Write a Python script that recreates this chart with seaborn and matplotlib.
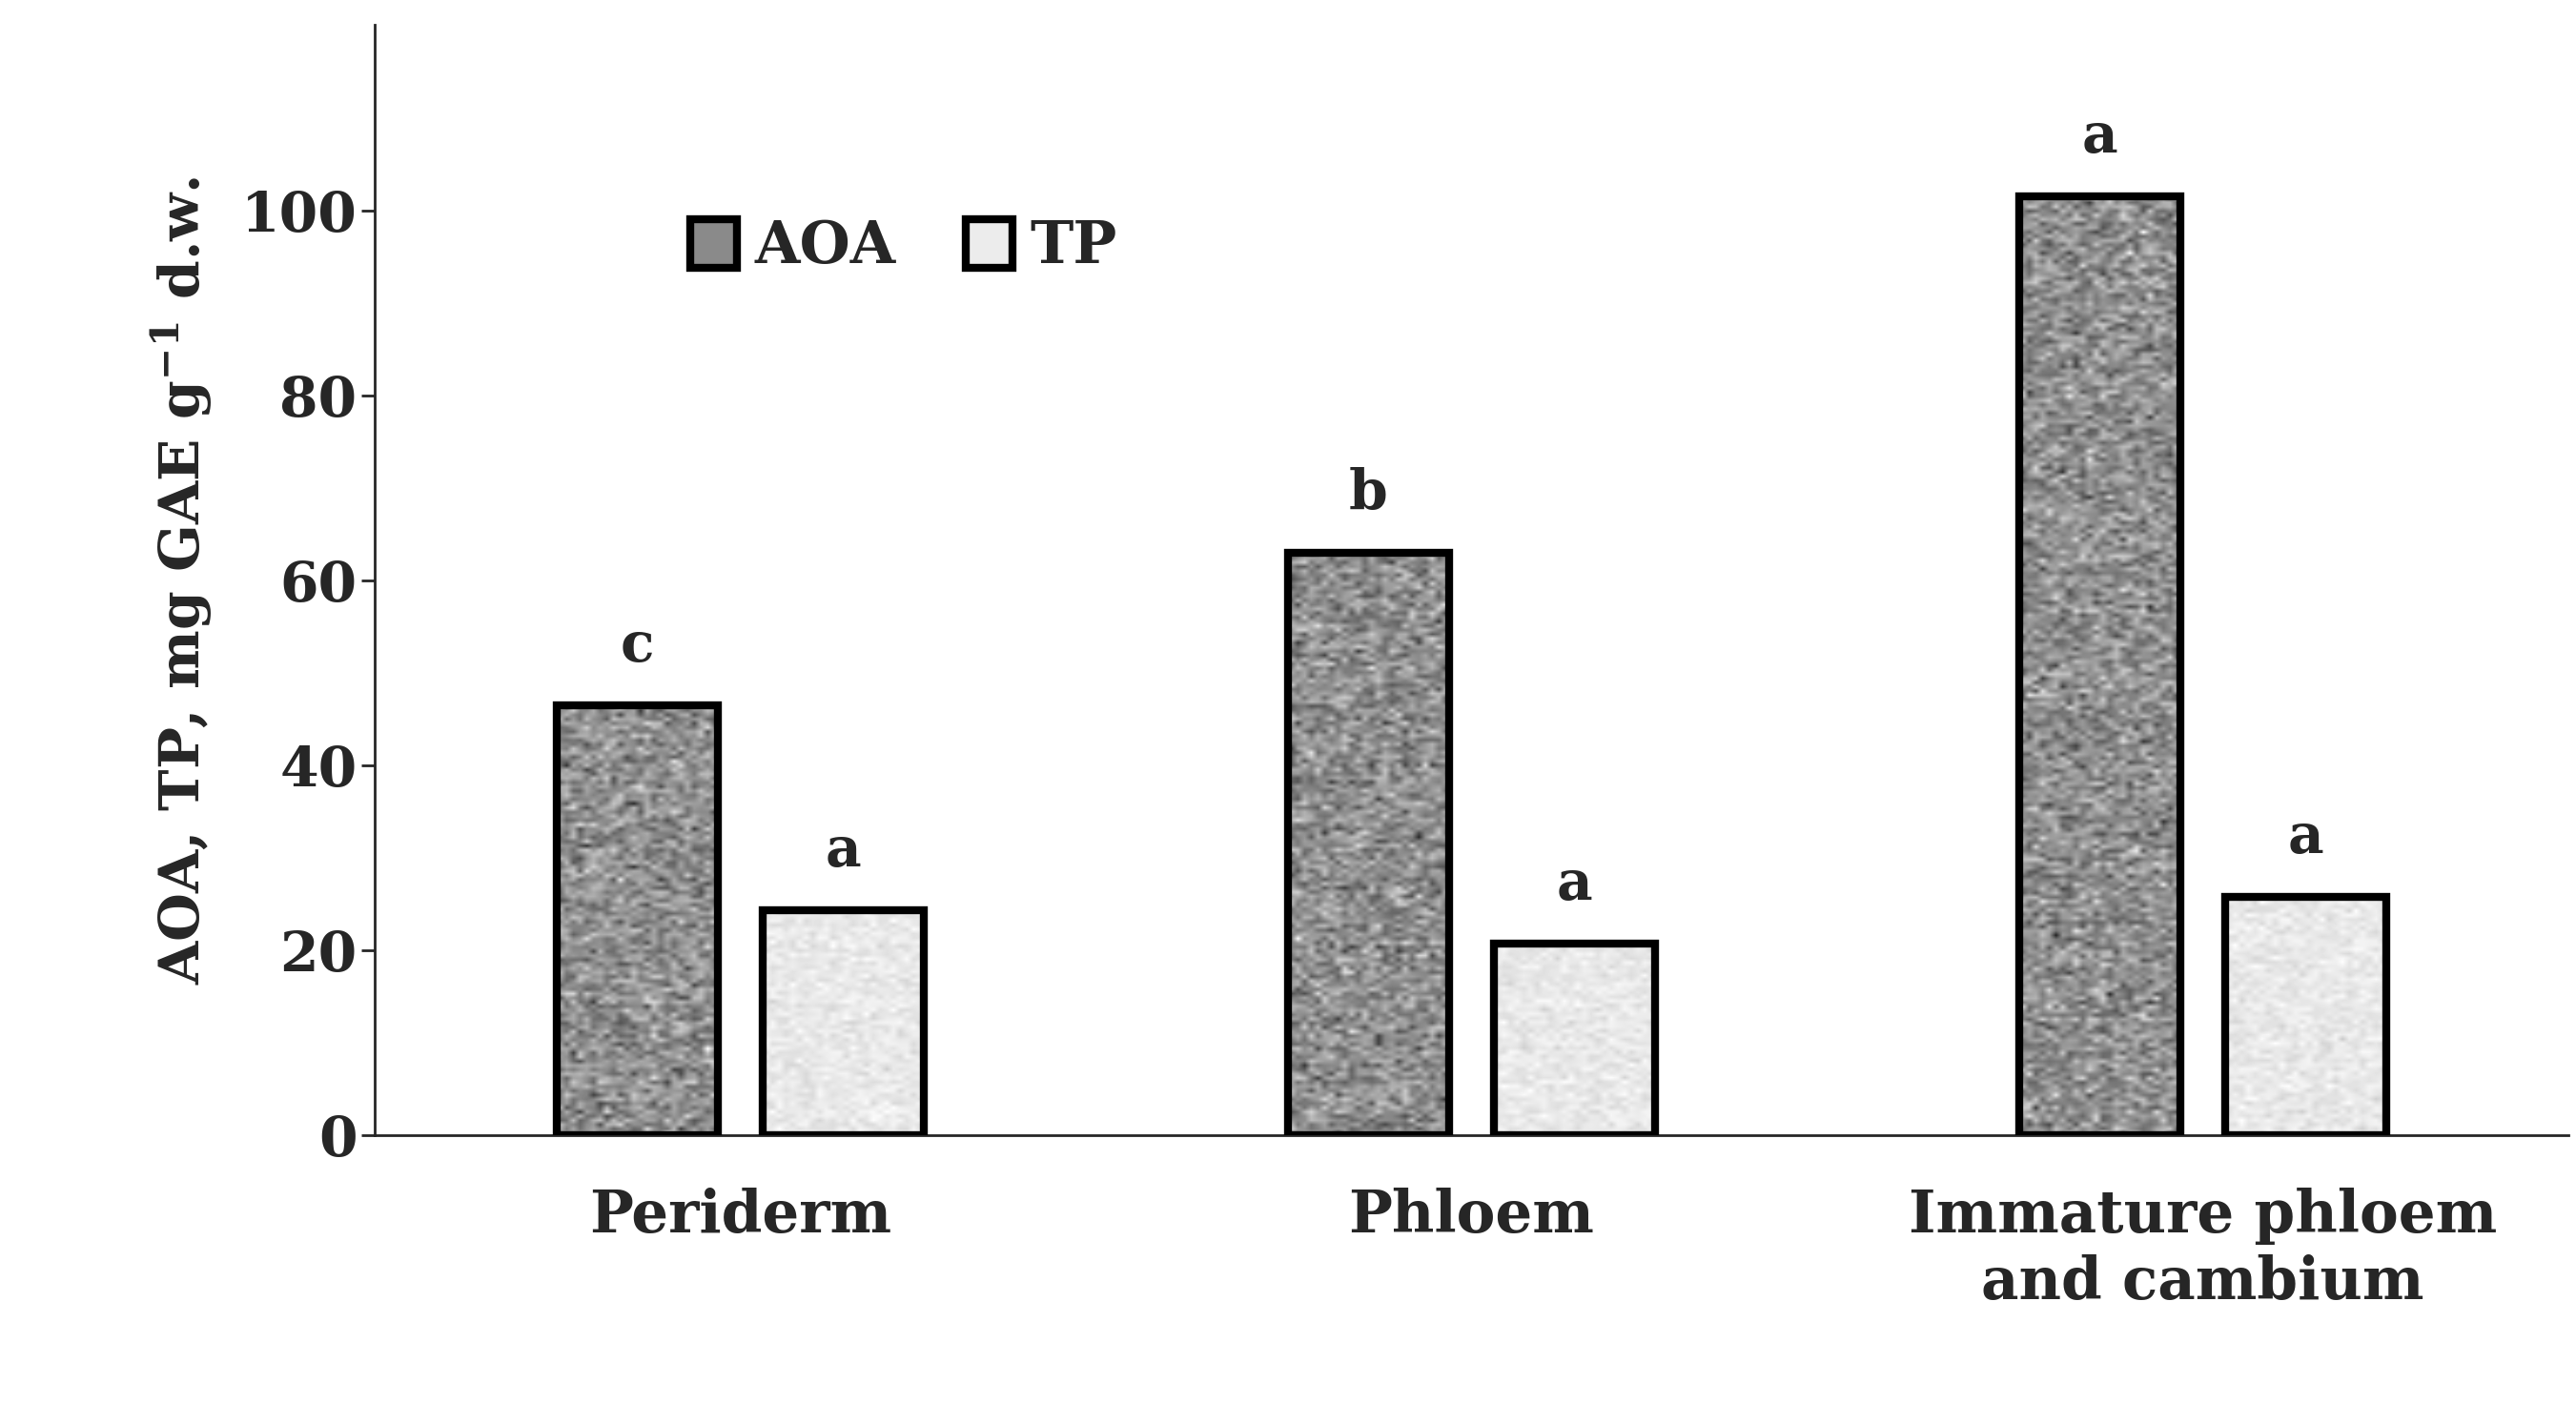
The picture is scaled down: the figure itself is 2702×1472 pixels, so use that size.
import numpy as np
import pandas as pd
import matplotlib
matplotlib.use("Agg")
import matplotlib.pyplot as plt
import seaborn as sns
from matplotlib.patches import Patch

# values
tissues = ["Periderm", "Phloem", "Immature phloem\nand cambium"]
aoa = [46.5, 63.0, 101.5]
tp = [24.3, 20.7, 25.8]
aoa_letters = ["c", "b", "a"]
tp_letters = ["a", "a", "a"]

df = pd.DataFrame({
    "tissue": tissues * 2,
    "series": ["AOA"] * 3 + ["TP"] * 3,
    "value": aoa + tp,
})

sns.set_style("white")
plt.rcParams["font.family"] = ["DejaVu Serif"]
plt.rcParams["font.weight"] = "bold"
plt.rcParams["mathtext.fontset"] = "dejavuserif"

fig = plt.figure(figsize=(27.02, 14.72), dpi=100)
ax = fig.add_axes([0.1455, 0.191, 0.8515, 0.791])

sns.barplot(data=df, x="tissue", y="value", hue="series", order=tissues,
            hue_order=["AOA", "TP"], palette=["#8a8a8a", "#ececec"],
            width=0.565, gap=0.22, edgecolor="black", linewidth=6,
            legend=False, ax=ax)

# speckled texture inside each bar
rng = np.random.default_rng(3)
for i, p in enumerate(ax.patches[:6]):
    x0, y0 = p.get_x(), p.get_y()
    w, h = p.get_width(), p.get_height()
    if i < 3:
        tex = np.clip(rng.normal(0.56, 0.12, (int(h * 2.2), 24)), 0, 1)
    else:
        tex = np.clip(rng.normal(0.91, 0.035, (int(h * 2.2), 24)), 0, 1)
    im = ax.imshow(tex, cmap="gray", vmin=0, vmax=1, aspect="auto",
                   extent=[x0, x0 + w, y0, y0 + h], interpolation="bilinear",
                   zorder=p.get_zorder() - 0.1)
    im.set_clip_path(p)
    p.set_facecolor("none")
    p.set_zorder(3)

# significance letters
bars = ax.patches[:6]
for p, lab in zip(bars, aoa_letters + tp_letters):
    ax.text(p.get_x() + p.get_width() / 2, p.get_height() + 3.5, lab,
            ha="center", va="bottom", fontsize=42, fontweight="bold")

ax.set_xlim(-0.5, 2.5)
ax.set_ylim(0, 120)
ax.set_yticks([0, 20, 40, 60, 80, 100])
ax.tick_params(axis="y", labelsize=42, length=10, width=2, direction="out", left=True)
ax.tick_params(axis="x", labelsize=44, length=0, pad=40)
for lab in ax.get_xticklabels() + ax.get_yticklabels():
    lab.set_fontweight("bold")
ax.set_xlabel("")
ax.set_ylabel(r"AOA, TP, mg GAE g$^{\mathbf{-1}}$ d.w.", fontsize=42,
              fontweight="bold", labelpad=20)
sns.despine(ax=ax, top=True, right=True)
ax.spines["left"].set_linewidth(2)
ax.spines["bottom"].set_linewidth(2)

handles = [Patch(facecolor="#8a8a8a", edgecolor="black", linewidth=6, label="AOA"),
           Patch(facecolor="#ececec", edgecolor="black", linewidth=6, label="TP")]
ax.legend(handles=handles, loc="center left", bbox_to_anchor=(0.12, 0.80),
          ncol=2, frameon=False, fontsize=44, handlelength=0.8,
          handleheight=0.9, handletextpad=0.3, columnspacing=1.2)

fig.savefig("out.png", dpi=100)
